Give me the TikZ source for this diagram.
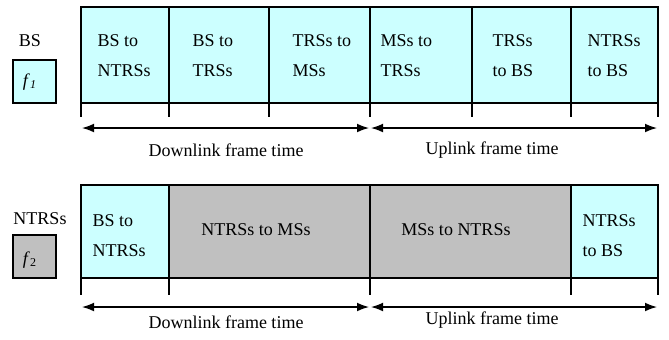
\documentclass[tikz,border=0pt]{standalone}
\usepackage{fontspec}
\setmainfont{Liberation Serif}
\usetikzlibrary{arrows.meta,positioning}
\definecolor{slotCyan}{HTML}{CCFFFF}
\definecolor{slotGray}{HTML}{C0C0C0}

\tikzset{
    slottext/.style={inner sep=0pt, align=left, anchor=west},
    freqbox/.style={draw, inner sep=0pt, minimum width=21.5pt, minimum height=21.5pt},
    span/.style={<->, shorten >=0.5pt, shorten <=0.5pt},
}

\begin{document}
\begin{tikzpicture}[x=0.5pt, y=-0.5pt, >={Latex[length=6pt,width=4.4pt]}, font=\fontsize{9}{15}\selectfont, line width=0.65pt]
    \useasboundingbox (0,0) rectangle (669,339);

    % BS carrier f1: six slots
    \fill[slotCyan] (81,7) rectangle (658,103);
    \draw (81,7) rectangle (658,103);
    \foreach \x in {169,269,370,472,571} \draw (\x,7) -- (\x,103);
    \foreach \x in {81,169,269,370,472,571,658} \draw (\x,103) -- (\x,117);

    \node[inner sep=0pt] (bsLabel) at (30,41) {BS};
    \node[freqbox, fill=slotCyan] (fBS) at (34.5,81.5) {};
    \node[inner sep=0pt] at (30,82) {\textit{f}\textsubscript{\textit{1}}};

    \node[slottext] (bs2ntrs) at (97,56) {BS to\\NTRSs};
    \node[slottext] (bs2trs) at (192,56) {BS to\\TRSs};
    \node[slottext] (trs2ms) at (292,56) {TRSs to\\MSs};
    \node[slottext] (ms2trs) at (380,56) {MSs to\\TRSs};
    \node[slottext] (trs2bs) at (492,56) {TRSs\\to BS};
    \node[slottext] (ntrs2bs) at (587,56) {NTRSs\\to BS};

    \coordinate (dlA) at (81,128);
    \coordinate (midA) at (370,128);
    \coordinate (ulA) at (658,128);
    \draw[span] (dlA) -- (midA);
    \draw[span] (midA) -- (ulA);
    \node[inner sep=0pt] (dlTextA) at (226,150) {Downlink frame time};
    \node[inner sep=0pt] (ulTextA) at (492,150) {Uplink frame time};

    % NTRS carrier f2
    \fill[slotCyan] (81,185) rectangle (169,278);
    \fill[slotGray] (169,185) rectangle (571,278);
    \fill[slotCyan] (571,185) rectangle (658,278);
    \draw (81,185) rectangle (658,278);
    \foreach \x in {169,370,571} \draw (\x,185) -- (\x,278);
    \foreach \x in {81,169,370,571,658} \draw (\x,278) -- (\x,295);

    \node[inner sep=0pt] (ntrsLabel) at (40,219) {NTRSs};
    \node[freqbox, fill=slotGray] (fNTRS) at (34.5,256.5) {};
    \node[inner sep=0pt] at (30,260) {\textit{f}\textsubscript{2}};

    \node[slottext] (bs2ntrsB) at (92,236) {BS to\\NTRSs};
    \node[inner sep=0pt] (ntrs2ms) at (256,230) {NTRSs to MSs};
    \node[inner sep=0pt] (ms2ntrs) at (456,230) {MSs to NTRSs};
    \node[slottext] (ntrs2bsB) at (582,236) {NTRSs\\to BS};

    \coordinate (dlB) at (81,307);
    \coordinate (midB) at (370,307);
    \coordinate (ulB) at (658,307);
    \draw[span] (dlB) -- (midB);
    \draw[span] (midB) -- (ulB);
    \node[inner sep=0pt] (dlTextB) at (226,322) {Downlink frame time};
    \node[inner sep=0pt] (ulTextB) at (492,320) {Uplink frame time};
\end{tikzpicture}
\end{document}
